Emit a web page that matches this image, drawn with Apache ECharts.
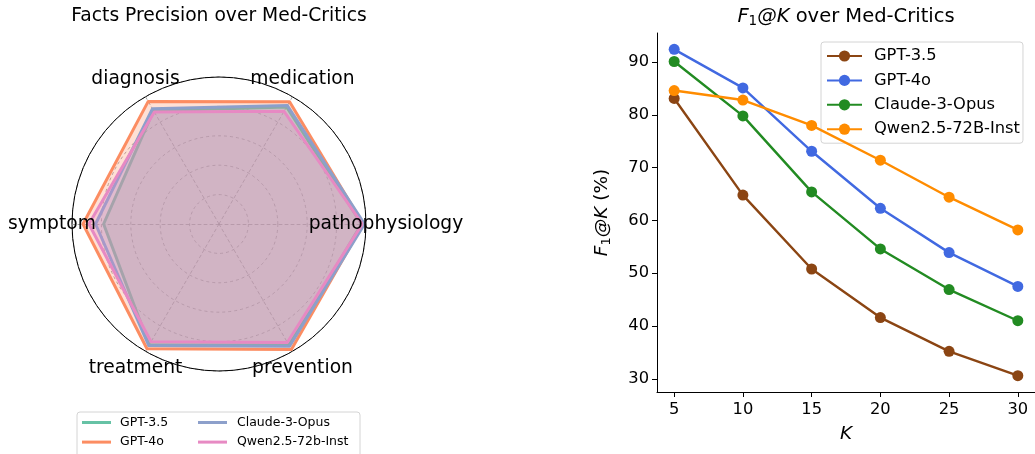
<!DOCTYPE html>
<html>
<head>
<meta charset="utf-8">
<script src="https://cdn.jsdelivr.net/npm/echarts@6/dist/echarts.min.js"></script>
<style>
html,body{margin:0;padding:0;background:#fff;}
#chart{width:1035px;height:454px;}
</style>
</head>
<body>
<div id="chart"></div>
<script>
// ---- Radar data (Facts Precision, %) ----
const radarCategories = ['pathophysiology', 'medication', 'diagnosis', 'symptom', 'treatment', 'prevention'];
const radarModels = ['GPT-3.5', 'GPT-4o', 'Claude-3-Opus', 'Qwen2.5-72b-Inst'];
const gpt35Precision = [97, 92, 89, 78.5, 95, 95];
const gpt4oPrecision = [98, 96, 96.3, 92.5, 98, 98.5];
const claudePrecision = [99, 93, 90.5, 84, 95.5, 96];
const qwenPrecision = [97.5, 88.5, 88, 88.5, 92.5, 93];
const radarColors = ['#66c2a5', '#fc8d62', '#8da0cb', '#e78ac3'];

// ---- Line data (F1@K, %) ----
const kValues = [5, 10, 15, 20, 25, 30];
const lineModels = ['GPT-3.5', 'GPT-4o', 'Claude-3-Opus', 'Qwen2.5-72B-Inst'];
const gpt35F1 = [83.1, 64.8, 50.8, 41.6, 35.2, 30.6];
const gpt4oF1 = [92.4, 85.1, 73.1, 62.3, 53.9, 47.5];
const claudeF1 = [90.1, 79.8, 65.4, 54.6, 46.9, 41.0];
const qwenF1 = [84.6, 82.8, 78.0, 71.4, 64.4, 58.2];
const lineColors = ['#8b4513', '#4169e1', '#228b22', '#ff8c00'];
const xTicks = [5, 10, 15, 20, 25, 30];
const yTicks = [30, 40, 50, 60, 70, 80, 90];

const FONT = 'DejaVu Sans';
const radarCenter = [219, 224];
const radarRadius = 147;
const labelRadius = 167;

const precisionSets = [gpt35Precision, gpt4oPrecision, claudePrecision, qwenPrecision];
const f1Sets = [gpt35F1, gpt4oF1, claudeF1, qwenF1];

const chart = echarts.init(document.getElementById('chart'), null, {renderer: 'canvas'});

const radarLabelGraphics = radarCategories.map((name, i) => {
  const a = i * Math.PI / 3;
  return {
    type: 'text',
    x: radarCenter[0] + labelRadius * Math.cos(a),
    y: radarCenter[1] - labelRadius * Math.sin(a),
    z: 10,
    style: {
      text: name, fill: '#000', font: '18.7px "' + FONT + '"',
      textAlign: 'center', textVerticalAlign: 'middle'
    }
  };
});

const radarLegendItem = i => ({
  name: radarModels[i],
  icon: 'rect',
  itemStyle: {color: radarColors[i], borderWidth: 0, opacity: 1},
  lineStyle: {color: radarColors[i], opacity: 0}
});

const option = {
  animation: false,
  backgroundColor: '#fff',
  textStyle: {fontFamily: FONT},
  title: [
    {
      text: 'Facts Precision over Med-Critics',
      left: 219, top: 7, padding: 0, textAlign: 'center',
      textStyle: {fontFamily: FONT, fontSize: 18.7, fontWeight: 'normal', color: '#000'}
    },
    {
      text: '{i|F}{s|1}{i|@K}{n| over Med-Critics}',
      left: 846, top: 5, padding: 0, textAlign: 'center',
      textStyle: {
        fontFamily: FONT, fontSize: 19.5, fontWeight: 'normal', color: '#000',
        rich: {
          i: {fontFamily: FONT, fontSize: 19.5, fontStyle: 'italic', color: '#000'},
          s: {fontFamily: FONT, fontSize: 13.5, color: '#000', verticalAlign: 'bottom', padding: [9, 0, 0, 0]},
          n: {fontFamily: FONT, fontSize: 19.5, color: '#000'}
        }
      }
    }
  ],
  legend: [
    {
      data: [radarLegendItem(0), radarLegendItem(1)],
      orient: 'vertical', left: 82, top: 415, padding: 0,
      itemWidth: 29, itemHeight: 3, itemGap: 4.6, icon: 'rect',
      textStyle: {fontFamily: FONT, fontSize: 12.5, color: '#000', lineHeight: 15, padding: [0, 0, 0, 4]}
    },
    {
      data: [radarLegendItem(2), radarLegendItem(3)],
      orient: 'vertical', left: 198, top: 415, padding: 0,
      itemWidth: 29, itemHeight: 3, itemGap: 4.6, icon: 'rect',
      textStyle: {fontFamily: FONT, fontSize: 12.5, color: '#000', lineHeight: 15, padding: [0, 0, 0, 5]}
    },
    {
      data: lineModels,
      orient: 'vertical', left: 821, top: 42, padding: [5, 3, 5, 5],
      itemWidth: 35, itemHeight: 14, itemGap: 6.4,
      borderColor: '#d4d4d4', borderWidth: 1, borderRadius: 3,
      backgroundColor: 'rgba(255,255,255,0.8)',
      textStyle: {fontFamily: FONT, fontSize: 16.3, color: '#000', lineHeight: 18, padding: [0, 0, 0, 7]}
    }
  ],
  graphic: [
    {
      type: 'rect', z: 0,
      shape: {x: 77, y: 412, width: 283, height: 50, r: 3},
      style: {fill: 'rgba(255,255,255,0.8)', stroke: '#d4d4d4', lineWidth: 1}
    }
  ].concat(radarLabelGraphics),
  radar: {
    center: radarCenter,
    radius: radarRadius,
    startAngle: 0,
    shape: 'circle',
    splitNumber: 5,
    indicator: radarCategories.map(name => ({name: name, min: 0, max: 100})),
    axisName: {show: false},
    splitArea: {show: false},
    splitLine: {lineStyle: {color: '#8c8c8c', width: 0.8, type: [3, 3]}},
    axisLine: {lineStyle: {color: '#8c8c8c', width: 0.8, type: [3, 3]}},
    axisTick: {show: false},
    axisLabel: {show: false}
  },
  polar: {center: radarCenter, radius: radarRadius},
  angleAxis: {
    type: 'value', min: 0, max: 360, startAngle: 0,
    axisLine: {show: true, lineStyle: {color: '#000', width: 1}},
    axisTick: {show: false}, axisLabel: {show: false}, splitLine: {show: false}
  },
  radiusAxis: {type: 'value', min: 0, max: 1, show: false},
  grid: {left: 657, top: 33, right: -1, bottom: 62, containLabel: false},
  xAxis: {
    type: 'value', min: 3.75, max: 31.25,
    name: 'K', nameLocation: 'middle', nameGap: 33,
    nameTextStyle: {fontFamily: FONT, fontSize: 18.5, fontStyle: 'italic', color: '#000'},
    axisLine: {show: true, lineStyle: {color: '#000', width: 1}},
    axisTick: {show: true, length: 5, lineStyle: {color: '#000'}, customValues: xTicks},
    axisLabel: {fontFamily: FONT, fontSize: 16.3, color: '#000', margin: 10, customValues: xTicks},
    splitLine: {show: false}
  },
  yAxis: {
    type: 'value', min: 27.5, max: 95.5,
    name: '{i|F}{s|1}{i|@K}{n| (%)}', nameLocation: 'middle', nameGap: 44, nameRotate: 90,
    nameTextStyle: {
      fontFamily: FONT, fontSize: 18.5, color: '#000',
      rich: {
        i: {fontFamily: FONT, fontSize: 18.5, fontStyle: 'italic', color: '#000'},
        s: {fontFamily: FONT, fontSize: 13, color: '#000', verticalAlign: 'bottom', padding: [8, 0, 0, 0]},
        n: {fontFamily: FONT, fontSize: 18.5, color: '#000'}
      }
    },
    axisLine: {show: true, lineStyle: {color: '#000', width: 1}},
    axisTick: {show: true, length: 5, lineStyle: {color: '#000'}, customValues: yTicks},
    axisLabel: {fontFamily: FONT, fontSize: 16.3, color: '#000', margin: 8, customValues: yTicks},
    splitLine: {show: false}
  },
  series: [
    {
      type: 'radar',
      symbol: 'none',
      data: precisionSets.map((vals, i) => ({
        name: radarModels[i],
        value: vals,
        itemStyle: {color: radarColors[i]},
        lineStyle: {color: radarColors[i], width: 3},
        areaStyle: {color: radarColors[i], opacity: 0.27}
      }))
    }
  ].concat(f1Sets.map((vals, i) => ({
    type: 'line',
    name: lineModels[i],
    data: kValues.map((k, j) => [k, vals[j]]),
    symbol: 'circle', symbolSize: 11,
    itemStyle: {color: lineColors[i]},
    lineStyle: {color: lineColors[i], width: 2.4},
    z: 2 + i
  })))
};

chart.setOption(option);
</script>
</body>
</html>
